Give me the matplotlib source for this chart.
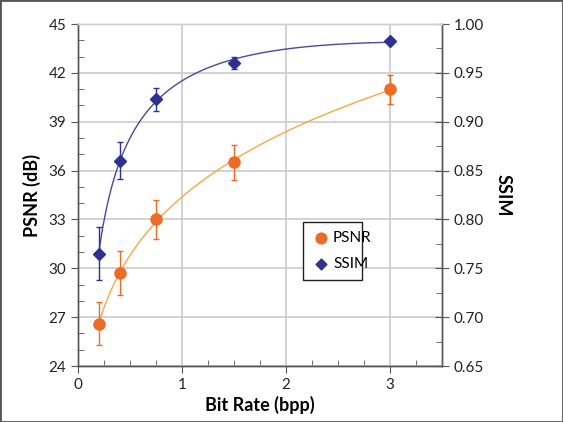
import numpy as np
import matplotlib.pyplot as plt
from matplotlib.ticker import MultipleLocator, FormatStrFormatter
from matplotlib.patches import Rectangle

plt.rcParams['font.family'] = ['Lato', 'DejaVu Sans']

bit_rate = [0.2, 0.4, 0.75, 1.5, 3.0]
psnr = [26.6, 29.7, 33.0, 36.5, 41.0]
psnr_err = [1.3, 1.35, 1.2, 1.1, 0.9]
ssim = [0.765, 0.860, 0.923, 0.960, 0.983]
ssim_err = [0.027, 0.019, 0.012, 0.006, 0.002]

orange = '#EF6A24'
orange_line = '#F5A843'
blue = '#2E3192'
blue_line = '#4848A6'
grid_c = '#CFCFCF'
spine_c = '#555555'

x = np.array(bit_rate)
xs = np.linspace(0.2, 3.0, 200)
# trendlines fitted to the data (power for PSNR, quadratic in log x for SSIM)
pp = np.polyfit(np.log(x), np.log(psnr), 1)
psnr_fit = np.exp(np.polyval(pp, np.log(xs)))
sp = np.polyfit(np.log(x), ssim, 2)
ssim_fit = np.polyval(sp, np.log(xs))

fig = plt.figure(figsize=(5.63, 4.22), dpi=100)
ax = fig.add_axes([0.1385, 0.1327, 0.6465, 0.8103])
ax2 = ax.twinx()

ax.set_xlim(0, 3.5)
ax.set_ylim(24, 45)
ax2.set_ylim(0.65, 1.00)

ax.xaxis.set_major_locator(MultipleLocator(1))
ax.xaxis.set_minor_locator(MultipleLocator(0.25))
ax.yaxis.set_major_locator(MultipleLocator(3))
ax.yaxis.set_minor_locator(MultipleLocator(1))
ax2.yaxis.set_major_locator(MultipleLocator(0.05))
ax2.yaxis.set_minor_locator(MultipleLocator(0.025))
ax2.yaxis.set_major_formatter(FormatStrFormatter('%.2f'))

ax.grid(True, which='major', color=grid_c, linewidth=1.3)
ax.set_axisbelow(True)

ax.plot(xs, psnr_fit, color=orange_line, lw=1.0, zorder=2)
ax.errorbar(x, psnr, yerr=psnr_err, fmt='o', color=orange, ms=8,
            ecolor=orange, elinewidth=1, capsize=2.5, zorder=3)
ax2.plot(xs, ssim_fit, color=blue_line, lw=1.0, zorder=2)
ax2.errorbar(x, ssim, yerr=ssim_err, fmt='D', color=blue, ms=6.5,
             ecolor=blue, elinewidth=1, capsize=2.5, zorder=3)

for a in (ax, ax2):
    for s in a.spines.values():
        s.set_color(spine_c)
        s.set_linewidth(1.0)
    a.spines['top'].set_color(grid_c)
    a.tick_params(labelsize=11, colors='#222222')

ax.tick_params(which='major', direction='out', length=5, color=spine_c)
ax.tick_params(which='minor', direction='in', length=4, color=spine_c)
ax2.tick_params(which='major', direction='inout', length=10, color=spine_c)
ax2.tick_params(which='minor', direction='in', length=4, color=spine_c)
ax.tick_params(axis='x', which='both', top=False)

ax.set_xlabel('Bit Rate (bpp)', fontsize=13, fontweight='bold', labelpad=3)
ax.set_ylabel('PSNR (dB)', fontsize=13, fontweight='bold', labelpad=5)
ax2.set_ylabel('SSIM', fontsize=13, fontweight='bold', rotation=270, labelpad=20)

h1 = ax.scatter([], [], marker='o', color=orange, s=60)
h2 = ax.scatter([], [], marker='D', color=blue, s=30)
leg = ax2.legend([h1, h2], ['PSNR', 'SSIM'], loc='lower left',
                 bbox_to_anchor=(0.596, 0.228, 0.206, 0.17), mode='expand',
                 fontsize=11, frameon=True, fancybox=False, framealpha=1,
                 edgecolor='#222222', handletextpad=0.2, labelspacing=0.8,
                 borderpad=0.6, handlelength=1.2)
leg.get_frame().set_linewidth(1.0)

fig.patches.append(Rectangle((0, 0), 1, 1, transform=fig.transFigure,
                             fill=False, edgecolor='#555555', linewidth=2))

fig.savefig('out.png', dpi=100)
